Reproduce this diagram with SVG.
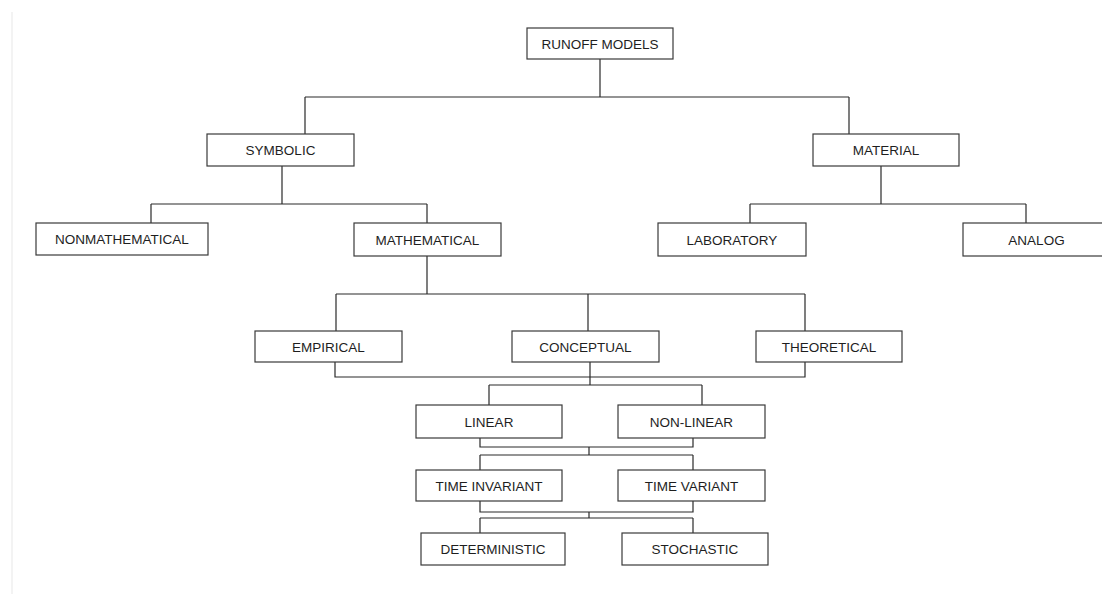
<svg xmlns="http://www.w3.org/2000/svg" width="1102" height="594" viewBox="0 0 1102 594">
  <style>
    .box { fill: #ffffff; stroke: #3a3a3a; stroke-width: 1.2; }
    .lbl { font-family: "Liberation Sans", Arial, sans-serif; font-size: 13.5px; fill: #1e1e1e; text-anchor: middle; }
    .wire { fill: none; stroke: #2a2a2a; stroke-width: 1.2; }
  </style>
  <rect width="1102" height="594" fill="#ffffff"/>
  <!-- page edge -->
  <line x1="12" y1="12" x2="12" y2="594" stroke="#efefef" stroke-width="1.5"/>

  <g id="connectors" class="wire">
    <path d="M600 59 V97 M305 97 H849 M305 97 V134 M849 97 V134"/>
    <path d="M282 166 V204 M151 204 H427 M151 204 V223 M427 204 V223"/>
    <path d="M881 166 V204 M750 204 H1026 M750 204 V223 M1026 204 V223"/>
    <path d="M427 256 V294 M336 294 H805 M336 294 V331 M588 294 V331 M805 294 V331"/>
    <path d="M335 362 V377 H805 V362 M590 362 V385 M489 385 H702 M489 385 V405 M702 385 V405"/>
    <path d="M480 438 V447 H693 V438 M589 447 V455 M480 455 H693 M480 455 V470 M693 455 V470"/>
    <path d="M480 501 V512 H693 V501 M589 512 V518 M480 518 H693 M480 518 V533 M693 518 V533"/>
  </g>

  <g id="runoff-models"><rect class="box" x="527" y="28" width="146" height="31"/><text class="lbl" x="600" y="48.5">RUNOFF MODELS</text></g>
  <g id="symbolic"><rect class="box" x="207" y="134" width="147" height="32"/><text class="lbl" x="280.5" y="155">SYMBOLIC</text></g>
  <g id="material"><rect class="box" x="813" y="134" width="146" height="32"/><text class="lbl" x="886" y="155">MATERIAL</text></g>
  <g id="nonmathematical"><rect class="box" x="36" y="223" width="172" height="32"/><text class="lbl" x="122" y="244">NONMATHEMATICAL</text></g>
  <g id="mathematical"><rect class="box" x="354" y="223" width="147" height="33"/><text class="lbl" x="427.5" y="244.5">MATHEMATICAL</text></g>
  <g id="laboratory"><rect class="box" x="658" y="223" width="148" height="33"/><text class="lbl" x="732" y="244.5">LABORATORY</text></g>
  <g id="analog"><rect class="box" x="963" y="223" width="147" height="33"/><text class="lbl" x="1036.5" y="244.5">ANALOG</text></g>
  <g id="empirical"><rect class="box" x="255" y="331" width="147" height="31"/><text class="lbl" x="328.5" y="351.5">EMPIRICAL</text></g>
  <g id="conceptual"><rect class="box" x="512" y="331" width="147" height="31"/><text class="lbl" x="585.5" y="351.5">CONCEPTUAL</text></g>
  <g id="theoretical"><rect class="box" x="756" y="331" width="146" height="31"/><text class="lbl" x="829" y="351.5">THEORETICAL</text></g>
  <g id="linear"><rect class="box" x="416" y="405" width="146" height="33"/><text class="lbl" x="489" y="426.5">LINEAR</text></g>
  <g id="non-linear"><rect class="box" x="618" y="405" width="147" height="33"/><text class="lbl" x="691.5" y="426.5">NON-LINEAR</text></g>
  <g id="time-invariant"><rect class="box" x="416" y="470" width="146" height="31"/><text class="lbl" x="489" y="490.5">TIME INVARIANT</text></g>
  <g id="time-variant"><rect class="box" x="618" y="470" width="147" height="31"/><text class="lbl" x="691.5" y="490.5">TIME VARIANT</text></g>
  <g id="deterministic"><rect class="box" x="421" y="533" width="144" height="32"/><text class="lbl" x="493" y="554">DETERMINISTIC</text></g>
  <g id="stochastic"><rect class="box" x="622" y="533" width="146" height="32"/><text class="lbl" x="695" y="554">STOCHASTIC</text></g>
</svg>
